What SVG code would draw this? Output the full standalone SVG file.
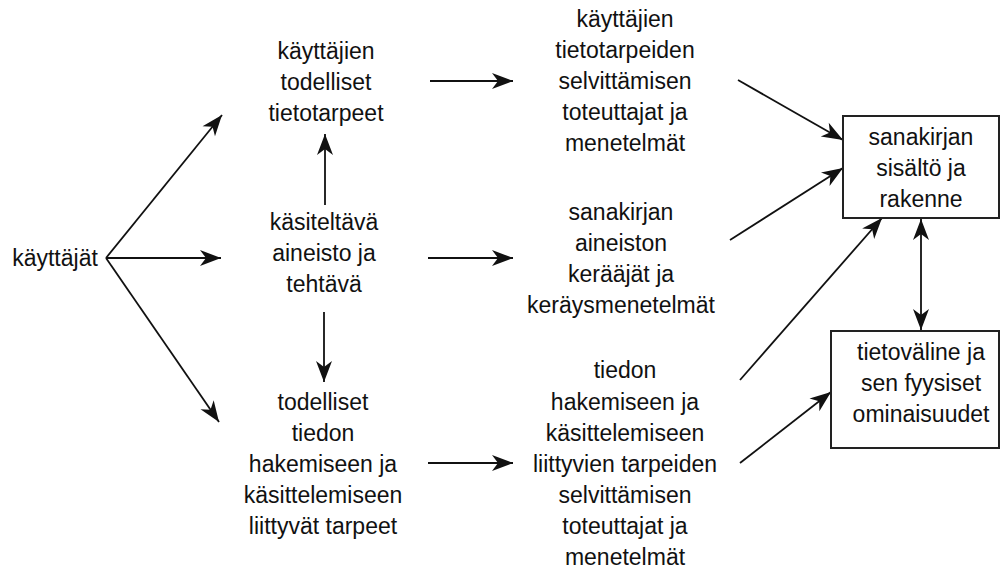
<svg xmlns="http://www.w3.org/2000/svg" width="1001" height="570" viewBox="0 0 1001 570">
<style>
text{font-family:"Liberation Sans",Arial,sans-serif;font-size:23px;fill:#111;text-anchor:middle}
.c line{stroke:#111;stroke-width:1.8;marker-end:url(#ah)}
.box{fill:#fff;stroke:#222;stroke-width:2}
</style>
<defs>
<marker id="ah" viewBox="-23 -9 24 18" refX="0" refY="0" markerWidth="24" markerHeight="18" markerUnits="userSpaceOnUse" orient="auto-start-reverse">
<path d="M0,0 L-21,-8 L-15,0 L-21,8 Z" fill="#111"/>
</marker>
</defs>
<rect width="1001" height="570" fill="#fff"/>
<g class="c" id="connectors">
<line x1="106" y1="258" x2="222" y2="115"/>
<line x1="106" y1="258" x2="221" y2="258"/>
<line x1="106" y1="258" x2="219" y2="422"/>
<line x1="325" y1="205" x2="325" y2="134"/>
<line x1="324" y1="312" x2="324" y2="382"/>
<line x1="430" y1="81" x2="513" y2="81"/>
<line x1="428" y1="258" x2="513" y2="258"/>
<line x1="428" y1="463" x2="513" y2="463"/>
<line x1="738" y1="80" x2="843" y2="140"/>
<line x1="730" y1="240" x2="843" y2="168"/>
<line x1="740" y1="380" x2="882" y2="218"/>
<line x1="921" y1="219" x2="921" y2="330" style="marker-start:url(#ah)"/>
<line x1="740" y1="463" x2="831" y2="392"/>
</g>
<g id="n-kayttajat"><text x="55" y="266">käyttäjät</text></g>
<g id="n-todelliset-tietotarpeet">
<text x="326" y="59">käyttäjien</text>
<text x="326" y="90">todelliset</text>
<text x="326" y="121">tietotarpeet</text>
</g>
<g id="n-aineisto">
<text x="324" y="230">käsiteltävä</text>
<text x="324" y="261">aineisto ja</text>
<text x="324" y="292">tehtävä</text>
</g>
<g id="n-tiedon-tarpeet">
<text x="323" y="410">todelliset</text>
<text x="323" y="441">tiedon</text>
<text x="323" y="472">hakemiseen ja</text>
<text x="323" y="503">käsittelemiseen</text>
<text x="323" y="534">liittyvät tarpeet</text>
</g>
<g id="n-selvittajat">
<text x="625" y="27">käyttäjien</text>
<text x="625" y="58">tietotarpeiden</text>
<text x="625" y="89">selvittämisen</text>
<text x="625" y="120">toteuttajat ja</text>
<text x="625" y="151">menetelmät</text>
</g>
<g id="n-keraajat">
<text x="621" y="220">sanakirjan</text>
<text x="621" y="251">aineiston</text>
<text x="621" y="282">kerääjät ja</text>
<text x="621" y="313">keräysmenetelmät</text>
</g>
<g id="n-tiedon-selvittajat">
<text x="625" y="378">tiedon</text>
<text x="625" y="410">hakemiseen ja</text>
<text x="625" y="441">käsittelemiseen</text>
<text x="625" y="472">liittyvien tarpeiden</text>
<text x="625" y="503">selvittämisen</text>
<text x="625" y="534">toteuttajat ja</text>
<text x="625" y="565">menetelmät</text>
</g>
<g id="n-sanakirja">
<rect class="box" x="843" y="116" width="156" height="102"/>
<text x="921" y="145">sanakirjan</text>
<text x="921" y="176">sisältö ja</text>
<text x="921" y="207">rakenne</text>
</g>
<g id="n-tietovaline">
<rect class="box" x="831" y="331" width="168" height="117"/>
<text x="921" y="360">tietoväline ja</text>
<text x="921" y="391">sen fyysiset</text>
<text x="921" y="422">ominaisuudet</text>
</g>
</svg>
